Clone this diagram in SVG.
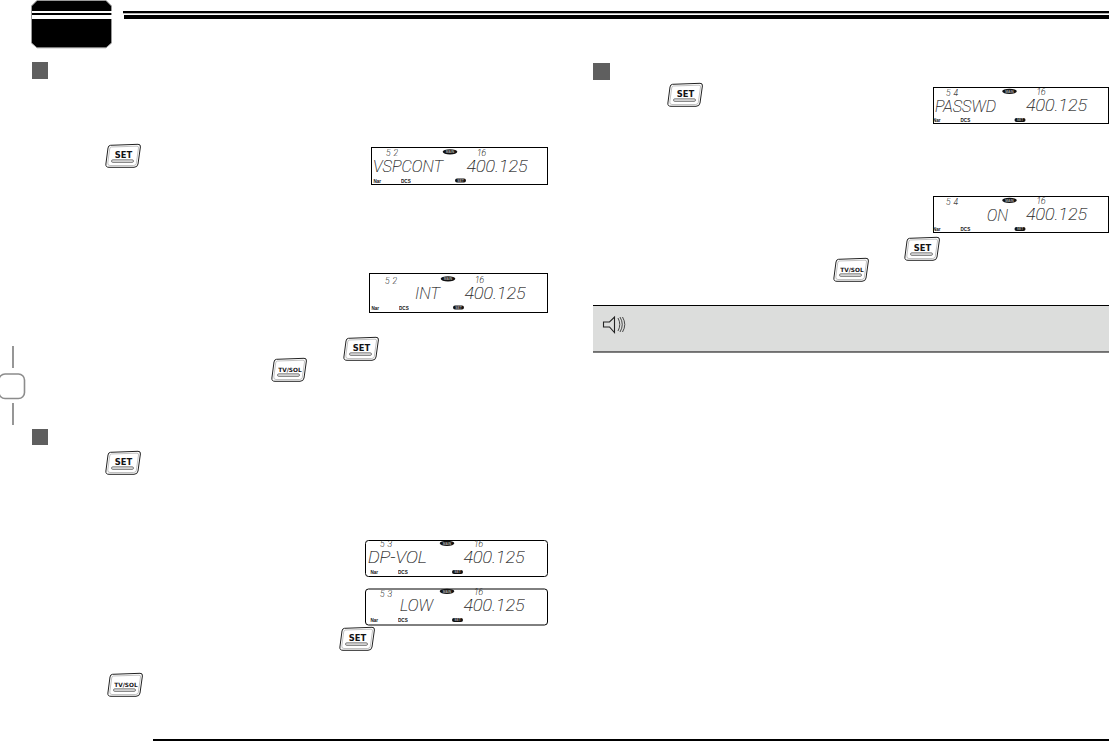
<svg xmlns="http://www.w3.org/2000/svg" width="1109" height="741" viewBox="0 0 1109 741">
<style>
.sq{fill:#5f5f5f}
.lcd{fill:#fff;stroke:#000;stroke-width:1}
.gray{opacity:.99}
.big{font-family:"Roboto",sans-serif;font-weight:100;font-style:italic;font-size:16.500px;fill:#222;stroke:#222;stroke-width:.2;opacity:.99}
.sm{font-family:"Roboto",sans-serif;font-weight:100;font-style:italic;font-size:8.500px;fill:#222;stroke:#222;stroke-width:.15;opacity:.99}
.tiny{font-family:"Liberation Sans",sans-serif;font-weight:700;font-size:4.600px;fill:#111;opacity:.99}
.pilltxt{font-family:"Liberation Sans",sans-serif;font-weight:700;font-size:3.400px;fill:#aaa;text-anchor:middle;opacity:.99}
.btxt{font-family:"DejaVu Sans",sans-serif;font-weight:700;fill:#111;text-anchor:middle;opacity:.99}
.bo{fill:#fff;stroke:#222;stroke-width:1}
.bi{fill:none;stroke:#999;stroke-width:.6}
.bb{fill:#ddd;stroke:#333;stroke-width:.6}
</style>
<defs>
<g id="btnshape">
<path class="bo" d="M5.500 1.300L33 .3Q35.800 .2 35.400 3L33 20Q32.500 23.300 29 23.300L4 23.300Q.4 23.300 .9 20L3 4Q3.400 1.400 5.500 1.300Z"/>
<path class="bi" d="M6.500 3L32 2.200Q33.800 2.200 33.500 4L31.300 19.500Q31 21.500 28.500 21.500L5 21.500Q2.500 21.500 2.800 19L4.700 5Q5 3.100 6.500 3Z"/>
<rect class="bb" x="6.500" y="15.800" width="22" height="2.600" rx="1.300"/>
</g>
<g id="btn-set"><use href="#btnshape"/><text class="btxt" x="18.500" y="14" font-size="8.400">SET</text></g>
<g id="btn-tv"><use href="#btnshape"/><text class="btxt" x="19" y="13.600" font-size="5.800">TV/SOL</text></g>
<g id="lcdcommon">
<ellipse cx="79" cy="4.800" rx="7.300" ry="2.600" fill="#111"/>
<text class="pilltxt" x="79" y="6">MAIN</text>
<rect x="84" y="31.500" width="11" height="4" rx="2" fill="#111"/>
<text class="pilltxt" x="89.500" y="34.700">SET</text>
<text class="tiny" x="2.500" y="35.500">Nar</text>
<text class="tiny" x="30" y="35.500">DCS</text>
<text class="sm" x="106" y="8.500" textLength="9" lengthAdjust="spacingAndGlyphs">16</text>
<text class="big" x="95.500" y="24.500" textLength="61" lengthAdjust="spacingAndGlyphs">400.125</text>
</g>
</defs>

<g id="header">
<path d="M37 .5H106L111.500 6V43L106 47.800H37L31.500 43V6Z" fill="#000" stroke="#999" stroke-width="1"/>
<rect x="32" y="11" width="80" height="2" fill="#fff"/>
<rect x="32" y="15" width="80" height="4" fill="#fff"/>
<rect x="123" y="11" width="986" height="2.300" fill="#000"/>
<rect x="124" y="15" width="985" height="4" fill="#000"/>
</g>
<g id="side-tab" fill="none" stroke="#8c8c8c">
<path d="M13 346V368M13 403V425" stroke-width="1.800"/>
<rect x="-1" y="374" width="25.500" height="24.500" rx="6" stroke-width="1.600"/>
</g>
<g id="bullets">
<rect class="sq" x="32" y="62" width="16" height="17"/>
<rect class="sq" x="32" y="429" width="16" height="16"/>
<rect class="sq" x="593" y="63" width="17" height="17"/>
</g>
<g id="buttons">
<use href="#btn-set" x="105" y="144"/>
<use href="#btn-set" x="343" y="337"/>
<use href="#btn-tv" x="271" y="358"/>
<use href="#btn-set" x="105" y="451"/>
<use href="#btn-set" x="339" y="627"/>
<use href="#btn-tv" x="107" y="673"/>
<use href="#btn-set" x="667" y="83"/>
<use href="#btn-set" x="904" y="237"/>
<use href="#btn-tv" x="833" y="258"/>
</g>
<g id="lcd-vspcont">
<rect class="lcd" x="371.500" y="147.500" width="176" height="37"/>
<use href="#lcdcommon" x="371" y="147"/>
<text class="sm" x="386" y="155.500" textLength="12" lengthAdjust="spacing">52</text>
<text class="big" x="373" y="171.500" textLength="70" lengthAdjust="spacingAndGlyphs">VSPCONT</text>
</g>
<g id="lcd-int">
<rect class="lcd" x="369.500" y="273.500" width="178" height="39"/>
<use href="#lcdcommon" x="369" y="274"/>
<text class="sm" x="385" y="283.500" textLength="12" lengthAdjust="spacing">52</text>
<text class="big" x="415" y="298.500" textLength="25" lengthAdjust="spacingAndGlyphs">INT</text>
</g>
<g id="lcd-dpvol">
<rect class="lcd" x="365.500" y="540.500" width="182" height="36" rx="3"/>
<use href="#lcdcommon" x="368" y="538.500"/>
<text class="sm" x="380" y="547" textLength="12" lengthAdjust="spacing">53</text>
<text class="big" x="368" y="563" textLength="59" lengthAdjust="spacingAndGlyphs">DP-VOL</text>
</g>
<g id="lcd-low">
<rect class="lcd" x="365.500" y="589" width="182" height="36" rx="3"/>
<use href="#lcdcommon" x="368" y="586.500"/>
<text class="sm" x="380" y="596.500" textLength="12" lengthAdjust="spacing">53</text>
<text class="big" x="400" y="611" textLength="33" lengthAdjust="spacingAndGlyphs">LOW</text>
</g>
<g id="lcd-passwd">
<rect class="lcd" x="933.500" y="87.500" width="175" height="36"/>
<use href="#lcdcommon" x="930.500" y="86.500"/>
<text class="sm" x="946" y="96" textLength="12" lengthAdjust="spacing">54</text>
<text class="big" x="935" y="111.500" textLength="61" lengthAdjust="spacingAndGlyphs">PASSWD</text>
</g>
<g id="lcd-on">
<rect class="lcd" x="933.500" y="196.500" width="175" height="36"/>
<use href="#lcdcommon" x="930.500" y="195.500"/>
<text class="sm" x="946" y="205" textLength="12" lengthAdjust="spacing">54</text>
<text class="big" x="987" y="220.500" textLength="21" lengthAdjust="spacingAndGlyphs">ON</text>
</g>
<g id="note">
<rect x="593" y="305" width="516" height="47" fill="#dcdddc"/>
<path d="M593 305.500H1109M593 352H1109" stroke="#000" stroke-width="1.200"/>
<g id="speaker" fill="none" stroke="#222" stroke-width="1.100">
<path d="M603.500 322H609.500L614.500 317V332.500L609.500 327H603.500Z"/>
<path d="M618 318Q621.500 324.500 618 331M620 317Q624.500 324.500 620 332M622.500 317Q627 324.500 622.500 332" stroke-width=".8"/>
</g>
</g>
<rect id="footer-rule" x="153" y="739" width="956" height="2" fill="#000"/>
</svg>
